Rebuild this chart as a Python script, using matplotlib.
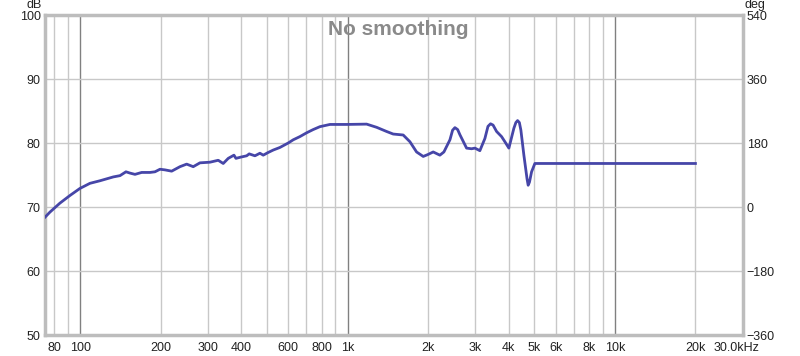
import numpy as np
import matplotlib
matplotlib.use('Agg')
import matplotlib.pyplot as plt
import matplotlib.transforms as mtransforms
from matplotlib.ticker import FixedLocator, NullFormatter

# 주파수 응답 데이터
freq = [73.8, 77.0, 83.9, 91.5, 99.7, 108.7, 118.5, 132.9, 140.8, 148.2,
        153.4, 160.2, 169.7, 182.3, 190.3, 198.7, 207.4, 219.7, 236.0, 250.0,
        264.6, 280.3, 305.5, 328.1, 342.6, 357.7, 375.7, 382.2, 399, 419.2,
        428.5, 450.1, 469.9, 483.5, 503.5, 527, 558, 599.6, 626, 663,
        703, 743.5, 787.6, 859, 991, 1178, 1284, 1399, 1481, 1614,
        1710, 1811, 1918, 1997, 2090, 2214, 2292, 2414, 2470, 2520, 2580, 2630,
        2786, 2909, 2994, 3124, 3262, 3350, 3425, 3500, 3608, 3766, 3875, 4011,
        4187, 4260, 4323, 4390, 4448, 4564, 4690, 4736, 4790, 4877, 5017, 20000]
spl = [68.4, 69.2, 70.6, 71.8, 72.9, 73.7, 74.1, 74.7, 74.9, 75.5,
       75.3, 75.1, 75.4, 75.4, 75.5, 75.9, 75.8, 75.6, 76.3, 76.7,
       76.3, 76.9, 77.0, 77.3, 76.8, 77.6, 78.1, 77.6, 77.8, 78.0,
       78.3, 78.0, 78.4, 78.1, 78.5, 78.9, 79.3, 80.0, 80.5, 81.0,
       81.6, 82.1, 82.55, 82.9, 82.9, 82.95, 82.45, 81.8, 81.4, 81.25,
       80.2, 78.6, 77.9, 78.2, 78.6, 78.1, 78.6, 80.5, 82.0, 82.4, 82.1, 81.3,
       79.2, 79.1, 79.2, 78.8, 80.7, 82.6, 83.0, 82.8, 81.8, 81.0, 80.2, 79.2,
       82.3, 83.2, 83.5, 83.2, 82.0, 78.1, 74.4, 73.4, 73.9, 75.5, 76.8, 76.8]

xticks = [80, 100, 200, 300, 400, 600, 800, 1000, 2000, 3000, 4000, 5000, 6000, 8000, 10000, 20000, 30000]
xlabels = ['80', '100', '200', '300', '400', '600', '800', '1k', '2k', '3k', '4k', '5k', '6k', '8k', '10k', '20k', '30.0kHz']
minor_grid = [80, 90, 200, 300, 400, 500, 600, 700, 800, 900,
              2000, 3000, 4000, 5000, 6000, 7000, 8000, 9000, 20000]
major_grid = [100, 1000, 10000]
db_ticks = [50, 60, 70, 80, 90, 100]
deg_ticks = [-360, -180, 0, 180, 360, 540]

plt.rcParams['font.family'] = ['Liberation Sans', 'DejaVu Sans']

fig = plt.figure(figsize=(8, 3.56), dpi=100)
ax = fig.add_axes([45 / 800, 21 / 356, 697.5 / 800, 320 / 356])

# 그리드
for g in minor_grid:
    ax.axvline(g, color='#c8c8c8', lw=1, zorder=1)
for g in major_grid:
    ax.axvline(g, color='#808080', lw=1, zorder=1)
for g in db_ticks[1:-1]:
    ax.axhline(g, color='#c8c8c8', lw=1, zorder=1)

ax.plot(freq, spl, color='#4646a8', lw=2, zorder=3, solid_joinstyle='round')

ax.set_xscale('log')
ax.set_xlim(73.8, 30000)
ax.set_ylim(50, 100)
ax.xaxis.set_major_locator(FixedLocator(xticks))
ax.xaxis.set_minor_formatter(NullFormatter())
ax.xaxis.set_minor_locator(FixedLocator([]))
ax.set_xticklabels(xlabels)
ax.set_yticks(db_ticks)
ax.tick_params(axis='y', length=0, labelsize=9, colors='#222222', pad=3)
ax.tick_params(axis='x', length=0, labelsize=9, colors='#222222', pad=5)

# 30.0kHz 라벨은 살짝 왼쪽으로
last = ax.get_xticklabels()[-1]
last.set_transform(last.get_transform() + mtransforms.ScaledTranslation(-6 / 100, 0, fig.dpi_scale_trans))

for s in ax.spines.values():
    s.set_color('#bdbdbd')
    s.set_linewidth(2.5)

ax2 = ax.twinx()
ax2.set_ylim(-360, 540)
ax2.set_yticks(deg_ticks)
ax2.tick_params(axis='y', length=0, labelsize=9, colors='#222222', pad=3)
for s in ax2.spines.values():
    s.set_visible(False)

fig.text(34 / 800, 1 - 5 / 356, 'dB', ha='center', va='center', fontsize=9, color='#222222')
fig.text(755 / 800, 1 - 5 / 356, 'deg', ha='center', va='center', fontsize=9, color='#222222')

fig.text(398 / 800, 1 - 35 / 356, 'No smoothing', ha='center', va='baseline',
         fontsize=15, fontweight='bold', color='#8a8a8a', zorder=5)

fig.savefig('out.png', dpi=100)
